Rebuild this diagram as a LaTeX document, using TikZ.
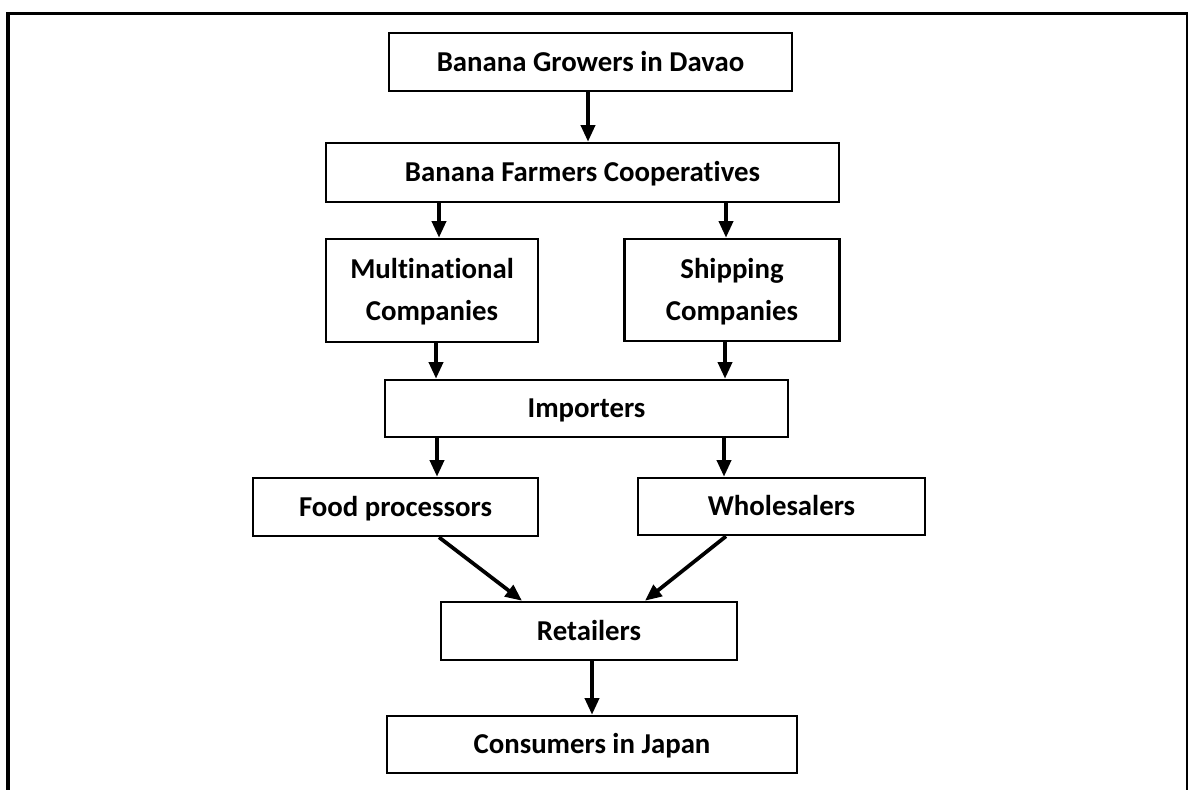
\documentclass[tikz,border=0pt]{standalone}
\usepackage{fontspec}
\setmainfont{Carlito}[Ligatures=NoCommon]
\usetikzlibrary{arrows.meta}
\begin{document}
\begin{tikzpicture}[x=0.75pt,y=-0.75pt,
  box/.style n args={2}{draw, line width=1.9pt, inner sep=0pt, align=center,
    minimum width={#1*0.75pt}, minimum height={#2*0.75pt},
    text height=13.9pt, text depth=0pt,
    font=\fontsize{21.6}{31.5}\selectfont\bfseries},
  twoline/.style={text height=45.4pt},
  arr/.style={-{Triangle[length=12.5pt,width=10.5pt]}, line width=2.8pt},
  frame/.style={line width=2.3pt}]
\useasboundingbox (0,0) rectangle (1188,789);
\draw[frame] (8,800) -- (8,13.5) -- (1187.5,13.5) -- (1187.5,800);
\node[box={403}{58}] (b1) at (590.5,62) {Banana Growers in Davao};
\node[box={513}{59}] (b2) at (582.5,172.5) {Banana Farmers Cooperatives};
\node[box={212}{103}, twoline] (mult) at (432,290.5) {Multinational\\Companies};
\node[box={215}{102}, twoline] (ship) at (732,290) {Shipping\\Companies};
\node[box={403}{57}] (imp) at (586.5,408.5) {Importers};
\node[box={285}{58}] (food) at (395.5,507) {Food processors};
\node[box={287}{57}] (whole) at (781.5,506.5) {Wholesalers};
\node[box={296}{58}] (ret) at (589,631) {Retailers};
\node[box={410}{57}] (cons) at (592,744.5) {Consumers in Japan};
\draw[arr] (b1.south -| 588,0) -- (b2.north -| 588,0);
\draw[arr] (b2.south -| 439,0) -- (mult.north -| 439,0);
\draw[arr] (b2.south -| 726,0) -- (ship.north -| 726,0);
\draw[arr] (mult.south -| 436,0) -- (imp.north -| 436,0);
\draw[arr] (ship.south -| 725,0) -- (imp.north -| 725,0);
\draw[arr] (imp.south -| 437,0) -- (food.north -| 437,0);
\draw[arr] (imp.south -| 724,0) -- (whole.north -| 724,0);
\draw[arr] (food.south -| 439,0) -- (ret.north -| 522,0);
\draw[arr] (whole.south -| 726,0) -- (ret.north -| 645,0);
\draw[arr] (ret.south -| 592,0) -- (cons.north -| 592,0);
\end{tikzpicture}
\end{document}
